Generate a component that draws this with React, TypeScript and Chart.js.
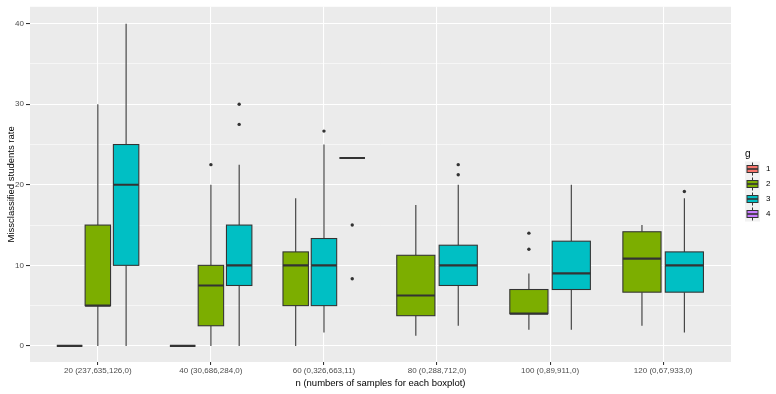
import { useEffect, useRef } from 'react';
import { Chart, registerables } from 'chart.js';

Chart.register(...registerables);

const FONT = 'Arial, "Liberation Sans", sans-serif';

const categories = [
  '20 (237,635,126,0)',
  '40 (30,686,284,0)',
  '60 (0,326,663,11)',
  '80 (0,288,712,0)',
  '100 (0,89,911,0)',
  '120 (0,67,933,0)',
];
const groupNames = ['1', '2', '3', '4'];
const groupColors = ['#F8766D', '#7CAE00', '#00BFC4', '#C77CFF'];
const yTickValues = [0, 5, 10, 15, 20, 25, 30, 35, 40];

// Box statistics per category: [lower whisker, Q1, median, Q3, upper whisker]; null = no samples
const group1Stats = [[0, 0, 0, 0, 0], [0, 0, 0, 0, 0], null, null, null, null];
const group2Stats = [
  [0, 5, 5, 15, 30],
  [0, 2.5, 7.5, 10, 20],
  [0, 5, 10, 11.67, 18.33],
  [1.25, 3.75, 6.25, 11.25, 17.5],
  [2, 4, 4, 7, 9],
  [2.5, 6.67, 10.83, 14.17, 15],
];
const group3Stats = [
  [0, 10, 20, 25, 40],
  [0, 7.5, 10, 15, 22.5],
  [1.67, 5, 10, 13.33, 25],
  [2.5, 7.5, 10, 12.5, 20],
  [2, 7, 9, 13, 20],
  [1.67, 6.67, 10, 11.67, 18.33],
];
const group4Stats = [null, null, [23.33, 23.33, 23.33, 23.33, 23.33], null, null, null];

// Outlying observations per category
const group1Outliers = [[], [], [], [], [], []];
const group2Outliers = [[], [22.5], [], [], [12, 14], []];
const group3Outliers = [[], [27.5, 30], [26.67], [21.25, 22.5], [], [19.17]];
const group4Outliers = [[], [], [8.33, 15], [], [], []];

const allStats = [group1Stats, group2Stats, group3Stats, group4Stats];
const allOutliers = [group1Outliers, group2Outliers, group3Outliers, group4Outliers];

// Dodge boxes within a category among the groups that are present there
function dodge(cat: number, g: number) {
  const present = allStats.map((s, i) => (s[cat] ? i : -1)).filter((i) => i >= 0);
  const n = present.length;
  const k = present.indexOf(g);
  const slot = 0.75 / n;
  return { center: cat + 1 + (k - (n - 1) / 2) * slot, half: (slot * 0.9) / 2 };
}

const panelPlugin = {
  id: 'panel',
  beforeDraw(chart: any) {
    const { ctx, chartArea: a } = chart;
    ctx.save();
    ctx.fillStyle = '#EBEBEB';
    ctx.fillRect(a.left, a.top, a.right - a.left, a.bottom - a.top);
    ctx.restore();
  },
};

const boxPlugin = {
  id: 'boxes',
  beforeDatasetsDraw(chart: any) {
    const { ctx, chartArea: a, scales } = chart;
    const xs = scales.x;
    const ys = scales.y;
    ctx.save();
    ctx.beginPath();
    ctx.rect(a.left, a.top, a.right - a.left, a.bottom - a.top);
    ctx.clip();
    allStats.forEach((stats, g) => {
      stats.forEach((s, cat) => {
        if (!s) return;
        const { center, half } = dodge(cat, g);
        const cx = xs.getPixelForValue(center);
        const x0 = xs.getPixelForValue(center - half);
        const x1 = xs.getPixelForValue(center + half);
        const [lo, q1, med, q3, hi] = s.map((v: number) => ys.getPixelForValue(v));
        ctx.strokeStyle = '#333333';
        ctx.lineWidth = 1.07;
        ctx.beginPath();
        ctx.moveTo(cx, q3);
        ctx.lineTo(cx, hi);
        ctx.moveTo(cx, q1);
        ctx.lineTo(cx, lo);
        ctx.stroke();
        ctx.fillStyle = groupColors[g];
        ctx.fillRect(x0, q3, x1 - x0, q1 - q3);
        ctx.strokeRect(x0, q3, x1 - x0, q1 - q3);
        ctx.lineWidth = 2.1;
        ctx.beginPath();
        ctx.moveTo(x0, med);
        ctx.lineTo(x1, med);
        ctx.stroke();
      });
    });
    ctx.restore();
  },
};

const legendPlugin = {
  id: 'boxLegend',
  afterDraw(chart: any) {
    const { ctx } = chart;
    ctx.save();
    ctx.fillStyle = '#000000';
    ctx.font = `10px ${FONT}`;
    ctx.textAlign = 'left';
    ctx.textBaseline = 'middle';
    ctx.fillText('g', 745, 154);
    const left = 745;
    const keyW = 15;
    const keyH = 15;
    const top0 = 161.5;
    ctx.fillStyle = '#F2F2F2';
    ctx.fillRect(left, top0, keyW, keyH * groupNames.length);
    groupNames.forEach((name, i) => {
      const cy = top0 + keyH * i + keyH / 2;
      const cx = left + keyW / 2;
      ctx.strokeStyle = '#333333';
      ctx.lineWidth = 1;
      ctx.beginPath();
      ctx.moveTo(cx, cy - keyH / 2 + 1);
      ctx.lineTo(cx, cy + keyH / 2 - 1);
      ctx.stroke();
      ctx.fillStyle = groupColors[i];
      ctx.fillRect(left + 2, cy - 3.5, keyW - 4, 7);
      ctx.strokeRect(left + 2, cy - 3.5, keyW - 4, 7);
      ctx.lineWidth = 1.6;
      ctx.beginPath();
      ctx.moveTo(left + 2, cy);
      ctx.lineTo(left + keyW - 2, cy);
      ctx.stroke();
      ctx.fillStyle = '#000000';
      ctx.font = `8px ${FONT}`;
      ctx.fillText(name, 766, cy);
    });
    ctx.restore();
  },
};

export default function App() {
  const ref = useRef<HTMLCanvasElement | null>(null);

  useEffect(() => {
    if (!ref.current) return;
    const datasets = allOutliers.map((outs, g) => ({
      label: groupNames[g],
      data: outs.flatMap((vals, cat) =>
        vals.map((v) => ({ x: dodge(cat, g).center, y: v }))
      ),
      pointRadius: 1.7,
      pointBackgroundColor: '#333333',
      pointBorderWidth: 0,
      showLine: false,
    }));

    const chart = new Chart(ref.current, {
      type: 'scatter',
      data: { datasets },
      options: {
        animation: false,
        responsive: false,
        events: [],
        layout: { padding: { left: 0, top: 6, right: 45, bottom: 0 } },
        plugins: { legend: { display: false }, tooltip: { enabled: false } },
        scales: {
          x: {
            type: 'linear',
            min: 0.4,
            max: 6.6,
            afterBuildTicks: (s: any) => {
              s.ticks = categories.map((_, i) => ({ value: i + 1 }));
            },
            afterFit: (s: any) => {
              s.height = 32;
            },
            ticks: {
              autoSkip: false,
              maxRotation: 0,
              padding: 1,
              color: '#4D4D4D',
              font: { size: 8, family: FONT },
              callback: (v: any) => categories[Math.round(Number(v)) - 1] ?? '',
            },
            grid: { color: '#FFFFFF', lineWidth: 1.07, tickColor: '#333333', tickLength: 3 },
            border: { display: false },
            title: {
              display: true,
              text: 'n (numbers of samples for each boxplot)',
              color: '#000000',
              font: { size: 9.5, family: FONT },
              padding: { top: 0, bottom: 5 },
            },
          },
          y: {
            type: 'linear',
            min: -2,
            max: 42.1,
            afterBuildTicks: (s: any) => {
              s.ticks = yTickValues.map((v) => ({ value: v }));
            },
            afterFit: (s: any) => {
              s.width = 30;
            },
            ticks: {
              padding: 2,
              color: '#4D4D4D',
              font: { size: 8, family: FONT },
              callback: (v: any) => (Number(v) % 10 === 0 ? String(v) : ''),
            },
            grid: {
              color: '#FFFFFF',
              lineWidth: (c: any) => (c.tick && c.tick.value % 10 === 0 ? 1.07 : 0.55),
              tickColor: (c: any) =>
                c.tick && c.tick.value % 10 === 0 ? '#333333' : 'rgba(0,0,0,0)',
              tickLength: 4,
            },
            border: { display: false },
            title: {
              display: true,
              text: 'Missclassified students rate',
              color: '#000000',
              font: { size: 9.5, family: FONT },
              padding: { top: 6, bottom: 0 },
            },
          },
        },
      },
      plugins: [panelPlugin, boxPlugin, legendPlugin],
    });
    return () => chart.destroy();
  }, []);

  return (
    <div style={{ position: 'fixed', left: 0, top: 0, width: 776, height: 394, background: '#FFFFFF' }}>
      <canvas ref={ref} width={776} height={394} />
    </div>
  );
}
